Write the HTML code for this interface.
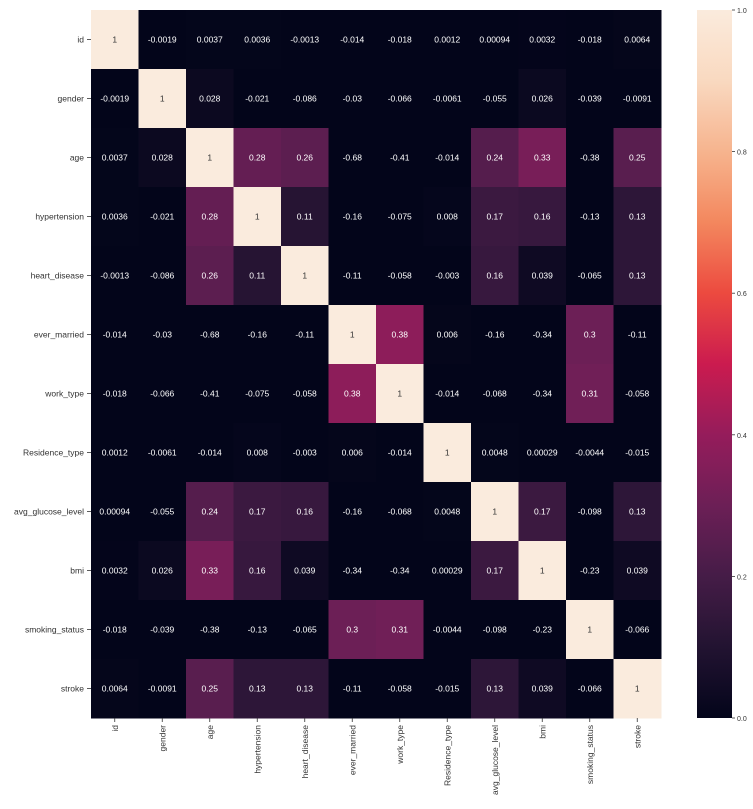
<!DOCTYPE html>
<html><head><meta charset="utf-8"><style>
html,body{margin:0;padding:0;background:#fff;}
svg{display:block;font-family:"Liberation Sans",sans-serif;}
</style></head><body>
<svg id="chart" width="753" height="809" viewBox="0 0 753 809"></svg>
<script>
const labels=["id","gender","age","hypertension","heart_disease","ever_married","work_type","Residence_type","avg_glucose_level","bmi","smoking_status","stroke"];
const row0=[1,-0.0019,0.0037,0.0036,-0.0013,-0.014,-0.018,0.0012,0.00094,0.0032,-0.018,0.0064];
const row1=[-0.0019,1,0.028,-0.021,-0.086,-0.03,-0.066,-0.0061,-0.055,0.026,-0.039,-0.0091];
const row2=[0.0037,0.028,1,0.28,0.26,-0.68,-0.41,-0.014,0.24,0.33,-0.38,0.25];
const row3=[0.0036,-0.021,0.28,1,0.11,-0.16,-0.075,0.008,0.17,0.16,-0.13,0.13];
const row4=[-0.0013,-0.086,0.26,0.11,1,-0.11,-0.058,-0.003,0.16,0.039,-0.065,0.13];
const row5=[-0.014,-0.03,-0.68,-0.16,-0.11,1,0.38,0.006,-0.16,-0.34,0.3,-0.11];
const row6=[-0.018,-0.066,-0.41,-0.075,-0.058,0.38,1,-0.014,-0.068,-0.34,0.31,-0.058];
const row7=[0.0012,-0.0061,-0.014,0.008,-0.003,0.006,-0.014,1,0.0048,0.00029,-0.0044,-0.015];
const row8=[0.00094,-0.055,0.24,0.17,0.16,-0.16,-0.068,0.0048,1,0.17,-0.098,0.13];
const row9=[0.0032,0.026,0.33,0.16,0.039,-0.34,-0.34,0.00029,0.17,1,-0.23,0.039];
const row10=[-0.018,-0.039,-0.38,-0.13,-0.065,0.3,0.31,-0.0044,-0.098,-0.23,1,-0.066];
const row11=[0.0064,-0.0091,0.25,0.13,0.13,-0.11,-0.058,-0.015,0.13,0.039,-0.066,1];
const matrix=[row0,row1,row2,row3,row4,row5,row6,row7,row8,row9,row10,row11];
const cbTicks=[0,0.2,0.4,0.6,0.8,1.0];

const NS="http://www.w3.org/2000/svg";
const svg=document.getElementById("chart");
const L=91,R=661,T=10,B=718;
const n=labels.length, cw=(R-L)/n, ch=(B-T)/n;
const xPos=i=>L+i*cw, yPos=i=>T+i*ch;
const stops=[[0,"#03051a"],[0.1,"#221331"],[0.2,"#451c47"],[0.3,"#6c1f56"],[0.4,"#951c5b"],[0.5,"#cb1b4f"],[0.6,"#ec4a3f"],[0.7,"#f3875e"],[0.8,"#f6b48e"],[0.9,"#f9d9c0"],[1,"#faebdd"]];
function hex(h){return [1,3,5].map(k=>parseInt(h.substr(k,2),16));}
function color(v){v=Math.max(0,Math.min(1,v));for(let i=1;i<stops.length;i++){if(v<=stops[i][0]){const [a,ca]=stops[i-1],[b,cb]=stops[i];const t=(v-a)/(b-a);const A=hex(ca),Bc=hex(cb);return "rgb("+A.map((x,k)=>Math.round(x+(Bc[k]-x)*t)).join(",")+")";}}return stops[stops.length-1][1];}
function el(tag,attrs,parent){const e=document.createElementNS(NS,tag);for(const k in attrs)e.setAttribute(k,attrs[k]);(parent||svg).appendChild(e);return e;}

for(let r=0;r<n;r++){for(let c=0;c<n;c++){
  const v=matrix[r][c];
  const rect=el("rect",{x:xPos(c),y:yPos(r),width:cw+0.5,height:ch+0.5,fill:color(v)});
  
  
  const t=el("text",{x:xPos(c)+cw/2,y:yPos(r)+ch/2+3,"text-anchor":"middle","font-size":"8.5",fill:v>0.6?"#333":"#fff"});
  t.textContent=String(v);
  
  
}}
for(let i=0;i<n;i++){
  const y=yPos(i)+ch/2;
  el("line",{x1:L-4,x2:L,y1:y,y2:y,stroke:"#333","stroke-width":"0.8"});
  const t=el("text",{x:L-7,y:y+3,"text-anchor":"end","font-size":"8.5",fill:"#333"});
  t.textContent=labels[i];
  
  
  const x=xPos(i)+cw/2;
  el("line",{x1:x,x2:x,y1:B,y2:B+4,stroke:"#333","stroke-width":"0.8"});
  const tx=el("text",{x:0,y:0,"text-anchor":"end","font-size":"8.5",fill:"#333",transform:"translate("+(x+3)+","+(B+7)+") rotate(-90)"});
  tx.textContent=labels[i];
  
  
}
// colorbar
const defs=el("defs",{});
const g=el("linearGradient",{id:"cb",x1:"0",y1:"1",x2:"0",y2:"0"},defs);
for(let i=0;i<=20;i++){el("stop",{offset:i/20,"stop-color":color(i/20)},g);}
const CX=697,CW=35;
const cb=el("rect",{x:CX,y:T,width:CW,height:B-T,fill:"url(#cb)"});


cbTicks.forEach(v=>{
  const y=B-(B-T)*v;
  el("line",{x1:CX+CW,x2:CX+CW+3,y1:y,y2:y,stroke:"#333","stroke-width":"0.8"});
  const t=el("text",{x:CX+CW+5,y:y+3,"font-size":"7",fill:"#333"});
  t.textContent=v.toFixed(1);
  
  
});
</script>
</body></html>
